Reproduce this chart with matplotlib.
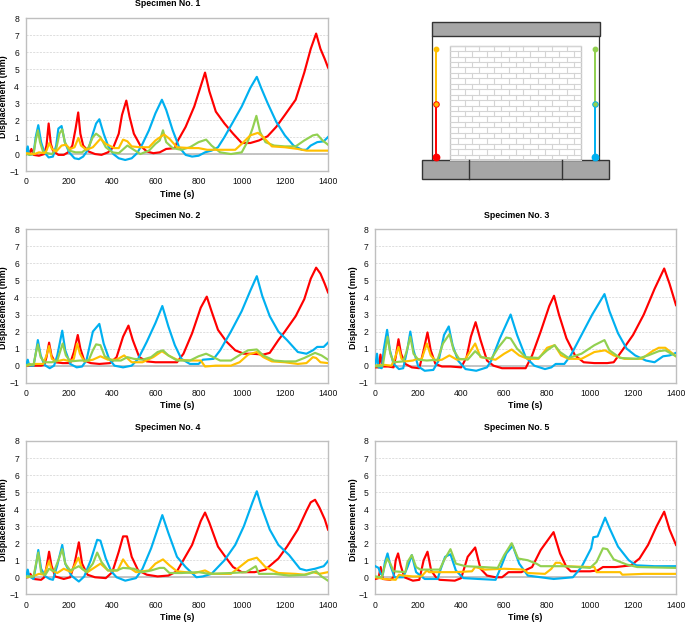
#!/usr/bin/env python3
"""Displacement histories of five masonry infill specimens, plus the LVDT layout sketch."""

import matplotlib
matplotlib.use('Agg')
import matplotlib.pyplot as plt
import matplotlib.patches as patches

plt.rcParams['font.family'] = ['Liberation Sans', 'DejaVu Sans']

W, H = 685, 623

RED = '#FF0000'
BLUE = '#00B0F0'
GREEN = '#92D050'
YELLOW = '#FFC000'

XTICKS = [0, 200, 400, 600, 800, 1000, 1200, 1400]
YTICKS = [-1, 0, 1, 2, 3, 4, 5, 6, 7, 8]

# Specimen 1
s1_red_t = [0, 8, 15, 25, 35, 60, 85, 95, 105, 115, 125, 150, 175, 195, 215, 230, 242, 252, 265, 290, 320, 350, 380, 405, 430, 445, 465, 480, 500, 530, 560, 590, 620, 650, 690, 700, 740, 780, 830, 850, 880, 920, 960, 1000, 1040, 1080, 1120, 1160, 1200, 1250, 1290, 1320, 1345, 1365, 1385, 1400]
s1_red_y = [0, 0.3, 0, 0.3, -0.05, -0.1, 0, 0.5, 1.8, 0.6, 0.2, -0.05, -0.05, 0.1, 0.5, 1.5, 2.45, 1.2, 0.5, 0.15, 0, -0.05, 0.1, 0.4, 1.2, 2.3, 3.15, 2.2, 1.2, 0.5, 0.15, 0.05, 0.1, 0.3, 0.35, 0.7, 1.6, 2.8, 4.8, 3.7, 2.5, 1.8, 1.2, 0.65, 0.65, 0.8, 1.05, 1.6, 2.3, 3.2, 4.8, 6.2, 7.1, 6.2, 5.6, 5.1]
s1_blue_t = [0, 8, 15, 35, 45, 57, 70, 85, 105, 125, 140, 150, 165, 180, 200, 225, 245, 265, 290, 310, 325, 340, 360, 380, 405, 430, 460, 490, 515, 540, 570, 600, 630, 650, 680, 710, 740, 770, 800, 830, 860, 890, 920, 960, 1000, 1040, 1070, 1090, 1120, 1160, 1200, 1240, 1280, 1300, 1320, 1350, 1380, 1400]
s1_blue_y = [0, 0.45, -0.05, 0, 1.0, 1.7, 0.7, 0.1, -0.2, -0.15, 0.5, 1.5, 1.65, 0.7, 0.1, -0.25, -0.3, -0.15, 0.3, 1.2, 1.8, 2.05, 1.2, 0.5, 0, -0.25, -0.35, -0.25, 0.05, 0.6, 1.4, 2.4, 3.2, 2.6, 1.4, 0.4, -0.05, -0.15, -0.1, 0.1, 0.2, 0.4, 1.0, 1.9, 2.8, 3.9, 4.55, 3.9, 3.0, 1.9, 1.1, 0.5, 0.25, 0.25, 0.5, 0.7, 0.75, 1.0]
s1_green_t = [0, 20, 35, 45, 55, 65, 80, 120, 140, 155, 168, 180, 200, 230, 260, 290, 310, 325, 345, 370, 400, 430, 470, 500, 530, 570, 600, 620, 635, 650, 680, 720, 760, 800, 835, 860, 900, 950, 1000, 1030, 1050, 1068, 1085, 1110, 1150, 1200, 1250, 1290, 1330, 1350, 1375, 1400]
s1_green_y = [0, -0.05, 0, 0.8, 1.4, 0.7, 0.1, 0, 0.3, 1.2, 1.45, 0.7, 0.2, 0.1, 0.1, 0.4, 1.0, 1.2, 1.0, 0.4, 0.1, 0.05, 0.5, 0.25, 0, 0.2, 0.6, 0.8, 1.4, 0.7, 0.35, 0.25, 0.4, 0.7, 0.85, 0.5, 0.1, 0, 0.1, 0.8, 1.5, 2.25, 1.3, 0.7, 0.5, 0.45, 0.45, 0.8, 1.1, 1.15, 0.8, 0.55]
s1_yellow_t = [0, 40, 60, 85, 95, 108, 120, 140, 165, 185, 205, 225, 243, 255, 280, 310, 345, 370, 410, 430, 450, 470, 490, 530, 570, 600, 640, 665, 700, 760, 800, 840, 900, 970, 1000, 1040, 1075, 1100, 1140, 1200, 1260, 1300, 1400]
s1_yellow_y = [0.05, 0, 0.1, 0.05, 0.2, 0.65, 0.3, 0.15, 0.5, 0.55, 0.3, 0.4, 0.95, 0.5, 0.25, 0.4, 0.9, 0.6, 0.35, 0.35, 0.85, 0.75, 0.45, 0.4, 0.4, 0.8, 1.15, 0.9, 0.4, 0.35, 0.35, 0.25, 0.25, 0.25, 0.6, 1.1, 1.25, 1.0, 0.45, 0.4, 0.3, 0.2, 0.2]

# Specimen 2
s2_red_t = [0, 40, 70, 85, 95, 107, 118, 135, 170, 205, 222, 240, 252, 270, 300, 340, 390, 420, 450, 475, 495, 525, 560, 600, 650, 700, 730, 770, 810, 838, 860, 890, 930, 970, 1010, 1050, 1100, 1130, 1170, 1200, 1250, 1290, 1320, 1345, 1365, 1385, 1400]
s2_red_y = [0, 0, 0, 0.05, 0.5, 1.35, 0.6, 0.2, 0.15, 0.15, 0.8, 1.8, 1.0, 0.3, 0.15, 0.1, 0.15, 0.5, 1.7, 2.35, 1.5, 0.5, 0.25, 0.2, 0.2, 0.2, 0.7, 1.9, 3.4, 4.05, 3.2, 2.1, 1.4, 0.9, 0.7, 0.7, 0.65, 0.75, 1.5, 2.0, 2.9, 3.9, 5.1, 5.75, 5.4, 4.8, 4.3]
s2_blue_t = [0, 8, 15, 35, 45, 55, 68, 85, 110, 130, 145, 168, 182, 205, 235, 260, 280, 310, 340, 360, 385, 410, 450, 490, 520, 560, 600, 632, 660, 690, 720, 760, 800, 820, 870, 900, 950, 1000, 1040, 1070, 1095, 1130, 1170, 1210, 1260, 1300, 1330, 1350, 1380, 1400]
s2_blue_y = [0, 0.35, 0, 0, 0.7, 1.5, 0.6, 0.05, -0.15, 0, 0.6, 2.05, 0.9, 0.1, -0.1, -0.05, 0.3, 2.0, 2.45, 1.3, 0.4, 0, -0.1, 0, 0.4, 1.4, 2.5, 3.5, 2.3, 1.2, 0.4, 0.1, 0.1, 0.35, 0.4, 0.9, 2.0, 3.2, 4.4, 5.25, 4.1, 2.9, 2.0, 1.5, 0.8, 0.7, 0.9, 1.1, 1.1, 1.35]
s2_green_t = [0, 15, 35, 45, 55, 68, 85, 120, 145, 170, 185, 205, 250, 290, 310, 325, 345, 365, 400, 440, 470, 500, 540, 580, 610, 635, 660, 700, 760, 800, 835, 860, 900, 950, 1000, 1030, 1070, 1100, 1150, 1200, 1250, 1290, 1340, 1370, 1400]
s2_green_y = [0, 0.1, 0.05, 0.7, 1.25, 0.5, 0.2, 0.2, 0.3, 1.3, 0.6, 0.25, 0.3, 0.3, 0.9, 1.25, 1.2, 0.55, 0.3, 0.3, 0.5, 0.4, 0.35, 0.5, 0.8, 0.9, 0.6, 0.3, 0.3, 0.55, 0.7, 0.55, 0.3, 0.3, 0.7, 0.9, 0.95, 0.6, 0.3, 0.25, 0.25, 0.45, 0.75, 0.6, 0.35]
s2_yellow_t = [0, 40, 80, 95, 107, 120, 140, 175, 205, 222, 237, 250, 270, 310, 345, 380, 420, 455, 490, 540, 590, 630, 660, 700, 760, 810, 830, 880, 950, 990, 1030, 1070, 1100, 1140, 1200, 1260, 1300, 1330, 1345, 1365, 1400]
s2_yellow_y = [0, 0.1, 0.1, 0.6, 1.15, 0.4, 0.25, 0.35, 0.25, 0.4, 1.3, 0.7, 0.25, 0.35, 0.55, 0.35, 0.35, 0.6, 0.2, 0.2, 0.5, 0.85, 0.6, 0.35, 0.3, 0.3, -0.05, 0, 0, 0.2, 0.65, 0.8, 0.5, 0.25, 0.2, 0.1, 0.15, 0.5, 0.45, 0.2, 0.15]

# Specimen 3
s3_red_t = [0, 15, 24, 32, 60, 85, 95, 108, 120, 140, 170, 205, 225, 243, 258, 280, 310, 350, 400, 425, 445, 467, 490, 520, 550, 590, 640, 700, 730, 770, 810, 832, 855, 890, 930, 970, 1020, 1080, 1110, 1150, 1200, 1250, 1300, 1345, 1370, 1400]
s3_red_y = [-0.1, -0.1, 0.65, -0.05, -0.05, -0.1, 0.5, 1.55, 0.7, 0.1, -0.1, -0.15, 0.9, 1.95, 0.9, 0.1, -0.05, -0.05, -0.1, 0.5, 1.7, 2.55, 1.5, 0.3, 0, -0.15, -0.15, -0.15, 0.6, 2.0, 3.5, 4.1, 3.0, 1.6, 0.6, 0.2, 0.15, 0.15, 0.2, 0.9, 1.8, 3.0, 4.5, 5.7, 4.8, 3.55]
s3_blue_t = [0, 8, 15, 30, 40, 55, 68, 85, 110, 130, 150, 163, 178, 200, 230, 270, 295, 320, 342, 360, 385, 420, 470, 520, 540, 580, 630, 660, 700, 740, 790, 820, 840, 880, 910, 960, 1010, 1067, 1090, 1130, 1170, 1210, 1260, 1300, 1340, 1370, 1400]
s3_blue_y = [0, 0.7, -0.1, -0.15, 1.0, 2.1, 0.9, 0.1, -0.2, -0.15, 1.0, 2.0, 0.9, -0.05, -0.3, -0.25, 0.3, 1.8, 2.3, 1.2, 0.3, -0.2, -0.3, -0.1, 0.3, 1.6, 3.0, 1.8, 0.5, 0, -0.2, -0.1, 0.1, 0.1, 0.6, 1.8, 3.0, 4.2, 3.2, 1.9, 1.0, 0.6, 0.3, 0.2, 0.55, 0.6, 0.75]
s3_green_t = [0, 35, 45, 57, 70, 85, 130, 145, 163, 178, 200, 240, 290, 315, 345, 365, 390, 430, 465, 495, 540, 575, 610, 630, 660, 700, 760, 800, 835, 860, 900, 960, 1020, 1067, 1090, 1140, 1220, 1270, 1320, 1350, 1400]
s3_green_y = [-0.05, 0, 0.8, 1.7, 0.7, 0.2, 0.25, 0.8, 1.7, 0.7, 0.35, 0.3, 0.35, 1.3, 1.85, 0.9, 0.4, 0.35, 0.85, 0.5, 0.4, 1.1, 1.65, 1.6, 1.0, 0.5, 0.45, 0.9, 1.2, 0.8, 0.45, 0.7, 1.2, 1.5, 0.9, 0.45, 0.4, 0.6, 0.85, 0.9, 0.55]
s3_yellow_t = [0, 40, 75, 90, 108, 122, 140, 175, 195, 215, 240, 258, 280, 310, 345, 380, 420, 465, 490, 560, 600, 635, 670, 710, 760, 800, 835, 865, 900, 960, 1020, 1070, 1110, 1160, 1240, 1290, 1320, 1350, 1400]
s3_yellow_y = [0, 0.05, 0, 0.4, 1.1, 0.4, 0.25, 0.3, 0.4, 0.35, 1.3, 0.6, 0.3, 0.35, 0.6, 0.35, 0.4, 1.3, 0.5, 0.35, 0.7, 0.95, 0.6, 0.4, 0.4, 1.05, 1.2, 0.6, 0.4, 0.4, 0.8, 0.9, 0.6, 0.4, 0.4, 0.85, 1.05, 1.05, 0.55]

# Specimen 4
s4_red_t = [0, 10, 20, 35, 70, 85, 95, 107, 118, 135, 175, 205, 225, 245, 260, 285, 320, 370, 400, 430, 450, 468, 490, 520, 560, 610, 660, 700, 720, 770, 810, 830, 850, 890, 930, 960, 1000, 1060, 1110, 1170, 1210, 1260, 1300, 1320, 1340, 1360, 1385, 1400]
s4_red_y = [0, 0, 0.2, -0.1, -0.15, 0, 0.6, 1.5, 0.7, 0.05, -0.1, 0, 0.8, 2.05, 0.8, 0.15, 0, -0.05, 0.3, 1.5, 2.4, 2.4, 1.2, 0.4, 0.15, 0.05, 0.1, 0.35, 0.8, 1.9, 3.3, 3.8, 3.2, 1.8, 1.1, 0.6, 0.3, 0.3, 0.45, 1.1, 1.8, 2.8, 3.9, 4.4, 4.55, 4.1, 3.4, 2.8]
s4_blue_t = [0, 8, 15, 35, 45, 57, 70, 90, 110, 125, 145, 168, 182, 210, 245, 270, 300, 330, 345, 370, 395, 420, 460, 510, 540, 580, 632, 660, 700, 740, 790, 820, 860, 920, 970, 1010, 1050, 1070, 1090, 1130, 1170, 1220, 1270, 1300, 1340, 1380, 1400]
s4_blue_y = [0, 0.45, 0.05, -0.1, 0.6, 1.6, 0.5, 0.05, -0.1, -0.15, 0.7, 1.9, 0.8, 0.1, -0.25, 0.05, 1.0, 2.2, 2.15, 1.1, 0.35, 0, -0.2, -0.05, 0.5, 1.7, 3.65, 2.6, 1.2, 0.6, 0, 0.05, 0.2, 1.0, 1.9, 3.0, 4.4, 5.05, 4.2, 2.8, 1.9, 1.3, 0.5, 0.4, 0.5, 0.65, 0.95]
s4_green_t = [0, 35, 45, 57, 70, 90, 107, 130, 150, 168, 182, 205, 245, 280, 310, 330, 350, 380, 420, 450, 500, 540, 580, 620, 640, 665, 720, 800, 850, 950, 1020, 1065, 1080, 1150, 1220, 1300, 1345, 1370, 1400]
s4_green_y = [0.05, 0.05, 0.7, 1.45, 0.3, 0.15, 0.5, 0.35, 1.0, 1.65, 0.8, 0.4, 0.65, 0.3, 0.8, 1.45, 0.9, 0.4, 0.4, 0.55, 0.5, 0.3, 0.4, 0.55, 0.55, 0.25, 0.25, 0.3, 0.2, 0.25, 0.3, 0.65, 0.2, 0.2, 0.1, 0.15, 0.35, 0.05, -0.2]
s4_yellow_t = [0, 30, 60, 85, 107, 120, 145, 175, 210, 243, 260, 285, 345, 380, 425, 450, 475, 510, 570, 600, 635, 665, 700, 780, 830, 860, 950, 1000, 1030, 1070, 1110, 1170, 1250, 1290, 1330, 1360, 1400]
s4_yellow_y = [0, 0.05, 0.2, 0.15, 0.95, 0.4, 0.25, 0.5, 0.3, 1.15, 0.5, 0.3, 0.8, 0.4, 0.4, 1.05, 0.6, 0.3, 0.4, 0.8, 1.05, 0.7, 0.35, 0.25, 0.4, 0.2, 0.2, 0.7, 1.0, 1.15, 0.6, 0.25, 0.2, 0.15, 0.3, 0.2, 0.3]

# Specimen 5
s5_red_t = [0, 15, 25, 35, 70, 85, 95, 106, 118, 135, 175, 205, 225, 243, 260, 285, 300, 370, 400, 430, 465, 490, 520, 560, 590, 620, 680, 730, 770, 830, 860, 890, 910, 1000, 1035, 1060, 1120, 1190, 1230, 1270, 1310, 1345, 1370, 1400]
s5_red_y = [-0.1, -0.05, 0.6, -0.1, -0.15, 0, 1.0, 1.4, 0.7, 0, -0.2, -0.15, 1.0, 1.5, 0.4, -0.05, -0.15, -0.2, -0.05, 1.2, 1.75, 0.5, 0.1, 0, 0, 0.3, 0.3, 0.6, 1.6, 2.65, 1.4, 0.6, 0.35, 0.35, 0.4, 0.6, 0.6, 0.7, 1.1, 1.9, 3.0, 3.85, 2.8, 1.9]
s5_blue_t = [0, 15, 25, 35, 45, 57, 70, 90, 130, 150, 170, 190, 230, 290, 305, 325, 350, 375, 410, 480, 560, 585, 610, 640, 670, 710, 770, 830, 920, 960, 1005, 1015, 1035, 1070, 1090, 1130, 1180, 1215, 1300, 1400]
s5_blue_y = [0.65, 0.55, 0.2, 0.15, 0.9, 1.4, 0.7, 0, 0, 0.6, 1.3, 0.3, -0.1, -0.1, 0.5, 1.2, 1.35, 0.4, -0.05, -0.1, -0.15, 0.6, 1.4, 1.85, 0.8, 0.1, 0, -0.1, 0, 0.6, 1.7, 2.35, 2.4, 3.5, 2.9, 1.8, 1.0, 0.7, 0.65, 0.65]
s5_green_t = [0, 30, 45, 55, 70, 85, 140, 150, 170, 190, 210, 300, 320, 350, 375, 420, 500, 570, 600, 635, 665, 710, 750, 770, 880, 1000, 1030, 1060, 1080, 1110, 1170, 1220, 1400]
s5_green_y = [0.05, 0, 0.7, 1.1, 0.8, 0.35, 0.3, 0.9, 1.3, 0.6, 0.45, 0.45, 1.0, 1.65, 0.8, 0.65, 0.6, 0.55, 1.3, 2.0, 1.1, 1.0, 0.8, 0.65, 0.65, 0.55, 0.9, 1.7, 1.65, 1.05, 0.75, 0.6, 0.55]
s5_yellow_t = [0, 40, 95, 110, 130, 175, 215, 240, 250, 370, 450, 465, 510, 600, 690, 710, 790, 820, 840, 860, 880, 1000, 1020, 1030, 1140, 1150, 1250, 1400]
s5_yellow_y = [0, -0.1, -0.15, 0.15, 0.1, 0.05, 0.05, 0.4, 0.3, 0.3, 0.35, 0.6, 0.45, 0.5, 0.45, 0.25, 0.2, 0.5, 0.85, 0.85, 0.65, 0.6, 0.6, 0.3, 0.3, 0.15, 0.2, 0.2]


def plot_panel(rect, title, title_x, title_y, series):
    """rect is left, top, right, bottom of the plot area in image pixels"""
    left, top, right, bottom = rect
    ax = fig.add_axes([left / W, 1 - bottom / H, (right - left) / W, (bottom - top) / H])

    ax.axhline(0, color='#BFBFBF', linewidth=1.3, zorder=1)
    for t, y, color in series:
        ax.plot(t, y, color=color, linewidth=1.55, zorder=3, solid_joinstyle='round')

    ax.set_xlim(0, 1400)
    ax.set_ylim(-1, 8)
    ax.set_xticks(XTICKS)
    ax.set_yticks(YTICKS)
    ax.tick_params(length=0, labelsize=6.2, labelcolor='#111111')
    ax.tick_params(axis='x', pad=4.5)
    ax.tick_params(axis='y', pad=5)
    ax.grid(True, axis='y', color='#D9D9D9', linestyle=(0, (2.5, 1.5)), linewidth=0.6, zorder=0)
    ax.set_axisbelow(True)
    for spine in ax.spines.values():
        spine.set_color('#BFBFBF')
        spine.set_linewidth(1.0)

    fig.text(title_x / W, 1 - title_y / H, title, ha='center', va='center',
             fontsize=6.3, fontweight='bold')
    ax.set_xlabel('Time (s)', fontsize=6.4, fontweight='bold', va='center')
    ax.xaxis.set_label_coords(0.5, -23 / (bottom - top))
    ax.set_ylabel('Displacement (mm)', fontsize=6.4, fontweight='bold', va='center')
    ax.yaxis.set_label_coords(-22 / (right - left), 0.49)
    return ax


def draw_sketch():
    """LVDT layout on the infilled frame, drawn in image pixels"""
    ax = fig.add_axes([0, 0, 1, 1], facecolor='none')
    ax.set_xlim(0, W)
    ax.set_ylim(H, 0)
    ax.axis('off')

    # brick wall
    wx0, wx1, wy0, wy1 = 450.3, 581.3, 45.7, 160.0
    n_rows = 21
    row_h = (wy1 - wy0) / n_rows
    brick_w = (wx1 - wx0) / 9
    brick = dict(color='#D4D4D4', linewidth=0.8)
    for i in range(n_rows + 1):
        ax.plot([wx0, wx1], [wy0 + i * row_h] * 2, **brick)
    for i in range(n_rows):
        offset = brick_w if i % 2 == 0 else brick_w / 2
        x = wx0 + offset
        while x < wx1:
            ax.plot([x, x], [wy0 + i * row_h, wy0 + (i + 1) * row_h], **brick)
            x += brick_w
    ax.add_patch(patches.Rectangle((wx0, wy0), wx1 - wx0, wy1 - wy0, fill=False,
                                   edgecolor='#C8C8C8', linewidth=1.0))

    # frame
    dark = '#333333'
    ax.plot([431.7, 431.7], [36, 160], color=dark, linewidth=0.9)
    ax.plot([599.5, 599.5], [36, 160], color=dark, linewidth=0.9)
    ax.add_patch(patches.Rectangle((431.7, 22.3), 168.3, 14, facecolor='#A6A6A6',
                                   edgecolor=dark, linewidth=1.0))
    ax.add_patch(patches.Rectangle((422.3, 160), 187, 19, facecolor='#A6A6A6',
                                   edgecolor=dark, linewidth=1.0))
    for x in (468.7, 562.3):
        ax.plot([x, x], [160, 179], color=dark, linewidth=1.0)

    # transducers
    for x, up, low in ((435.7, YELLOW, RED), (595.3, GREEN, BLUE)):
        ax.plot([x, x], [49.3, 104.3], color=up, linewidth=1.4)
        ax.plot([x, x], [104.3, 156.7], color=low, linewidth=1.4)
        ax.plot(x, 49.3, 'o', color=up, markersize=3.2)
        ax.plot(x, 104.3, 'o', markerfacecolor=up, markeredgecolor=low, markeredgewidth=0.7, markersize=4)
        ax.plot(x, 156.7, 'o', color=low, markersize=4.6)


fig = plt.figure(figsize=(W / 100, H / 100), dpi=100)

plot_panel((26, 18.3, 328, 171), 'Specimen No. 1', 168, 3.7,
           [(s1_red_t, s1_red_y, RED), (s1_blue_t, s1_blue_y, BLUE),
            (s1_green_t, s1_green_y, GREEN), (s1_yellow_t, s1_yellow_y, YELLOW)])
plot_panel((26, 229.3, 328, 382.7), 'Specimen No. 2', 168, 215.3,
           [(s2_red_t, s2_red_y, RED), (s2_blue_t, s2_blue_y, BLUE),
            (s2_yellow_t, s2_yellow_y, YELLOW), (s2_green_t, s2_green_y, GREEN)])
plot_panel((375.3, 229.3, 676, 382.7), 'Specimen No. 3', 517, 215.3,
           [(s3_red_t, s3_red_y, RED), (s3_blue_t, s3_blue_y, BLUE),
            (s3_yellow_t, s3_yellow_y, YELLOW), (s3_green_t, s3_green_y, GREEN)])
plot_panel((26, 441, 328, 594.3), 'Specimen No. 4', 168, 427,
           [(s4_red_t, s4_red_y, RED), (s4_blue_t, s4_blue_y, BLUE),
            (s4_yellow_t, s4_yellow_y, YELLOW), (s4_green_t, s4_green_y, GREEN)])
plot_panel((375.3, 441, 676, 594.3), 'Specimen No. 5', 517, 427,
           [(s5_red_t, s5_red_y, RED), (s5_blue_t, s5_blue_y, BLUE),
            (s5_yellow_t, s5_yellow_y, YELLOW), (s5_green_t, s5_green_y, GREEN)])
draw_sketch()

fig.savefig('out.png', dpi=100)
